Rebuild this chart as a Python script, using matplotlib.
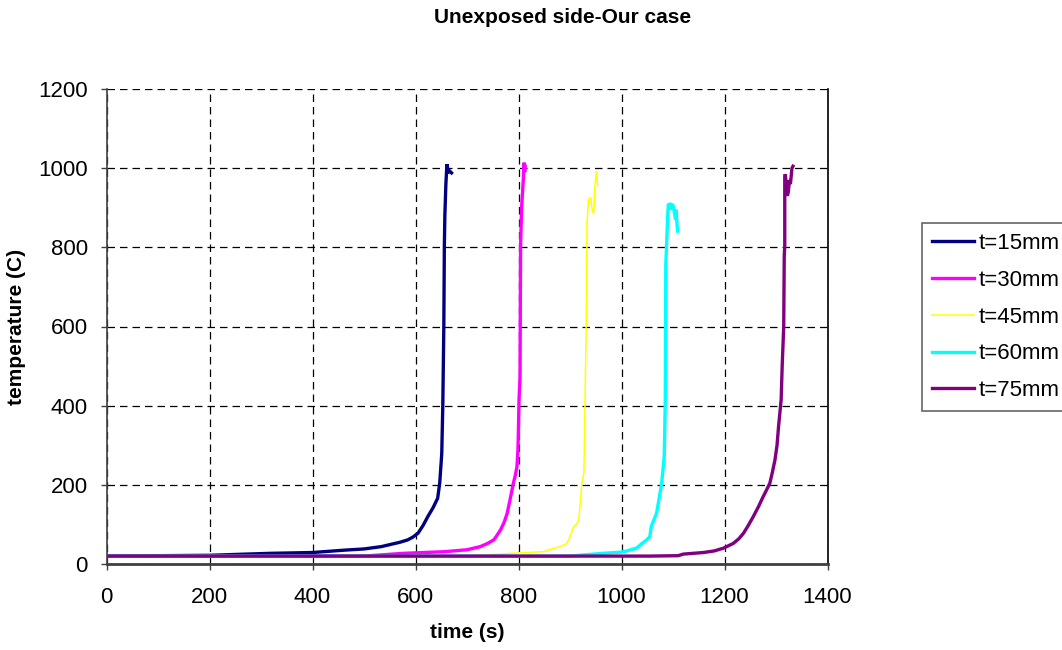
import matplotlib
matplotlib.use("Agg")
import matplotlib.pyplot as plt

plt.rcParams['font.family'] = ['Liberation Sans', 'DejaVu Sans']

# ---------- DATA ----------
labels = ["t=15mm", "t=30mm", "t=45mm", "t=60mm", "t=75mm"]
colors = ["#000080", "#FF00FF", "#FFFF00", "#00FFFF", "#800080"]
widths = [2.4, 2.4, 1.1, 2.4, 2.4]

time_15 = [0, 100, 200, 319, 400, 462, 500, 534, 560, 570, 585, 595, 605, 615, 624,
           634, 643, 645, 647, 650, 651, 653, 655, 656, 657, 659, 661, 664, 667, 670]
temp_15 = [20, 21, 22, 27, 29, 35, 38, 44, 52, 55, 61, 68, 78, 98, 120,
           142, 166, 185, 204, 260, 280, 400, 600, 800, 880, 960, 1010, 990, 992, 988]

time_30 = [0, 500, 577, 655, 700, 726, 740, 752, 758, 765, 772, 778, 784, 790, 794,
           797, 799, 800, 801, 803, 804, 806, 809, 811, 812, 813]
temp_30 = [20, 20, 27, 31, 36, 44, 52, 61, 72, 86, 105, 128, 165, 204, 225,
           246, 290, 348, 415, 474, 803, 900, 964, 1014, 990, 1005]

time_45 = [0, 700, 784, 848, 870, 881, 894, 900, 907, 912, 917, 920, 923, 927, 928,
           929, 932, 933, 936, 940, 943, 946, 948, 951, 954]
temp_45 = [20, 20, 27, 31, 40, 44, 52, 70, 94, 100, 111, 154, 204, 230, 314,
           400, 651, 862, 921, 926, 896, 884, 947, 993, 955]

time_60 = [0, 900, 964, 1000, 1010, 1029, 1040, 1048, 1055, 1058, 1068, 1073, 1078,
           1083, 1085, 1086, 1088, 1090, 1091, 1093, 1095, 1097, 1099, 1101, 1103,
           1105, 1106, 1108, 1109]
temp_60 = [20, 20, 27, 30, 33, 40, 52, 60, 69, 96, 128, 165, 204,
           272, 415, 755, 823, 888, 910, 905, 912, 895, 910, 900, 885,
           870, 895, 855, 841]

time_75 = [0, 1055, 1110, 1120, 1159, 1180, 1198, 1217, 1228, 1237, 1246, 1256, 1266,
           1275, 1282, 1288, 1293, 1298, 1302, 1305, 1310, 1312, 1315, 1316, 1317,
           1317, 1318, 1320, 1322, 1324, 1326, 1328, 1331, 1333]
temp_75 = [20, 20, 21, 25, 29, 33, 40, 52, 64, 78, 97, 120, 145,
           170, 188, 204, 232, 263, 300, 348, 415, 500, 600, 778, 803,
           975, 985, 960, 930, 940, 970, 960, 1000, 1005]

series_time = [time_15, time_30, time_45, time_60, time_75]
series_temp = [temp_15, temp_30, temp_45, temp_60, temp_75]

x_ticks = [0, 200, 400, 600, 800, 1000, 1200, 1400]
y_ticks = [0, 200, 400, 600, 800, 1000, 1200]

# ---------- PLOT ----------
W, H = 1062, 650
fig = plt.figure(figsize=(W / 100, H / 100), dpi=100)
ax = fig.add_axes([106.5 / W, 1 - 564 / H, (827.5 - 106.5) / W, (564 - 89) / H])

for t, T, lab, c, lw in zip(series_time, series_temp, labels, colors, widths):
    ax.plot(t, T, color=c, lw=lw, label=lab, solid_joinstyle='miter')

ax.set_xlim(0, 1400)
ax.set_ylim(0, 1200)
ax.set_xticks(x_ticks)
ax.set_yticks(y_ticks)
ax.grid(True, color='black', lw=0.9, linestyle=(0, (6, 4)))
ax.set_axisbelow(True)

ax.spines['top'].set_visible(False)
ax.spines['right'].set_color('black')
ax.spines['right'].set_linewidth(1.2)
ax.spines['left'].set_color('#404040')
ax.spines['left'].set_linewidth(1.2)
ax.spines['bottom'].set_color('#404040')
ax.spines['bottom'].set_linewidth(2)

ax.tick_params(axis='both', direction='out', length=4.5, width=1, color='#404040',
               labelsize=16)
ax.tick_params(axis='y', pad=9)
ax.tick_params(axis='x', pad=12)

fig.text(563 / W, 1 - 17.5 / H, "Unexposed side-Our case", ha='center', va='center',
         fontsize=15, fontweight='bold')
fig.text(467 / W, 1 - 633 / H, "time (s)", ha='center', va='center',
         fontsize=15, fontweight='bold')
fig.text(17 / W, 1 - 326.5 / H, "temperature (C)", ha='center', va='center',
         rotation=90, fontsize=15, fontweight='bold')

leg = ax.legend(loc='upper left', bbox_to_anchor=(921.5 / W, 1 - 223 / H),
                bbox_transform=fig.transFigure, fontsize=16, frameon=True,
                fancybox=False, edgecolor='#404040', handlelength=1.9,
                handletextpad=0.22, labelspacing=0.71, borderpad=0.45,
                borderaxespad=0)
leg.get_frame().set_linewidth(1.2)

fig.savefig("out.png", dpi=100)
